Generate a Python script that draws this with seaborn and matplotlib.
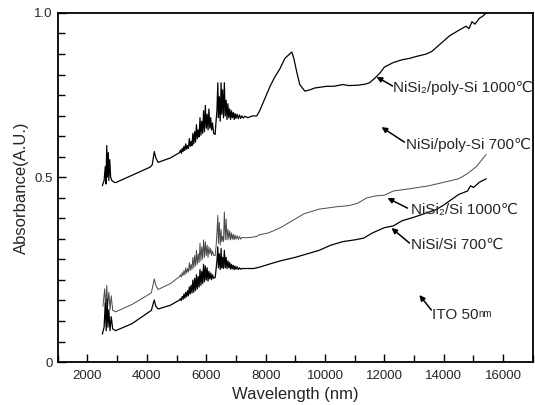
import matplotlib
matplotlib.use("Agg")
import matplotlib.pyplot as plt
import seaborn as sns

# ---------------- data ----------------
# NiSi2/poly-Si 1000C
wl_poly = [2500, 2560, 2600, 2620, 2650, 2670, 2700, 2720, 2750, 2780, 2820, 2900, 2950,
           3500, 4100, 4180, 4250, 4300, 4380, 4800,
           5100, 5130, 5160, 5190, 5220, 5250, 5280, 5310, 5340, 5370, 5400, 5430, 5460, 5490,
           5520, 5550, 5580, 5610, 5640, 5670, 5700, 5730, 5760, 5790, 5820, 5850, 5880, 5910,
           5940, 5970, 6000, 6030, 6060, 6090, 6120, 6150, 6180, 6210, 6250, 6300,
           6330, 6360, 6390, 6410, 6440, 6470, 6500, 6520, 6550, 6580, 6610, 6640, 6670, 6700,
           6730, 6760, 6790, 6820, 6850, 6880, 6910, 6940, 6970, 7000, 7040, 7080, 7120, 7160,
           7200, 7250, 7300, 7400, 7550, 7700,
           7800, 7950, 8150, 8300, 8480,
           8650, 8880, 8950, 9050, 9150, 9320, 9500, 9650, 10060, 10300, 10600, 10800, 11100,
           11350, 11500, 11700, 11850, 12000, 12300, 12600, 12850, 13100, 13400, 13600, 13800,
           14000, 14200, 14500, 14750, 14850, 14950, 15050, 15200, 15300, 15430]
ab_poly = [0.505, 0.52, 0.56, 0.51, 0.62, 0.53, 0.60, 0.52, 0.58, 0.53, 0.52, 0.515, 0.514,
           0.535, 0.558, 0.565, 0.603, 0.585, 0.572, 0.585,
           0.600, 0.607, 0.598, 0.612, 0.603, 0.618, 0.606, 0.625, 0.610, 0.620, 0.612, 0.640, 0.618, 0.632,
           0.620, 0.655, 0.625, 0.660, 0.630, 0.680, 0.640, 0.665, 0.645, 0.700, 0.650, 0.690, 0.655, 0.720,
           0.660, 0.735, 0.670, 0.710, 0.665, 0.725, 0.670, 0.700, 0.665, 0.685, 0.655, 0.652,
           0.690, 0.720, 0.800, 0.700, 0.760, 0.690, 0.800, 0.710, 0.780, 0.700, 0.800, 0.705, 0.750, 0.695,
           0.740, 0.700, 0.725, 0.695, 0.720, 0.700, 0.715, 0.695, 0.712, 0.698, 0.710, 0.697, 0.708, 0.698,
           0.705, 0.699, 0.704, 0.700, 0.705, 0.705,
           0.720, 0.750, 0.790, 0.815, 0.840,
           0.870, 0.888, 0.870, 0.830, 0.795, 0.776, 0.780, 0.785, 0.790, 0.790, 0.795, 0.792, 0.793,
           0.796, 0.800, 0.815, 0.828, 0.845, 0.858, 0.866, 0.870, 0.876, 0.882, 0.890, 0.905,
           0.920, 0.935, 0.950, 0.962, 0.955, 0.975, 0.968, 0.985, 0.990, 1.000]

# NiSi2/Si 1000C
wl_si2 = [2520, 2580, 2610, 2650, 2680, 2720, 2760, 2800, 2850, 2950,
          3500, 4150, 4250, 4300, 4380, 4800,
          5100, 5130, 5160, 5190, 5220, 5250, 5280, 5310, 5340, 5370, 5400, 5430, 5460, 5490,
          5520, 5550, 5580, 5610, 5640, 5670, 5700, 5730, 5760, 5790, 5820, 5850, 5880, 5910,
          5940, 5970, 6000, 6030, 6060, 6090, 6120, 6150, 6180, 6210, 6250, 6300,
          6330, 6360, 6390, 6410, 6440, 6470, 6500, 6520, 6550, 6580, 6610, 6640, 6670, 6700,
          6730, 6760, 6790, 6820, 6850, 6880, 6910, 6940, 6970, 7000, 7040, 7080, 7120, 7160,
          7200, 7300, 7500, 7700,
          7800, 8100, 8500, 8900, 9300, 9800, 10400,
          10800, 11100, 11400, 11700, 12000, 12300, 12900, 13500, 14000, 14500, 14800, 15100, 15430]
ab_si2 = [0.16, 0.21, 0.15, 0.22, 0.16, 0.20, 0.15, 0.19, 0.148, 0.144,
          0.165, 0.198, 0.238, 0.22, 0.208, 0.225,
          0.245, 0.250, 0.243, 0.256, 0.248, 0.262, 0.250, 0.270, 0.255, 0.268, 0.258, 0.285, 0.262, 0.280,
          0.265, 0.300, 0.270, 0.305, 0.275, 0.320, 0.280, 0.310, 0.285, 0.340, 0.290, 0.330, 0.295, 0.350,
          0.300, 0.345, 0.305, 0.335, 0.300, 0.330, 0.310, 0.325, 0.305, 0.318, 0.306, 0.305,
          0.330, 0.370, 0.420, 0.340, 0.400, 0.335, 0.380, 0.345, 0.360, 0.345, 0.430, 0.350, 0.410, 0.350,
          0.380, 0.352, 0.375, 0.350, 0.370, 0.352, 0.366, 0.350, 0.364, 0.352, 0.362, 0.351, 0.360, 0.352,
          0.357, 0.356, 0.357, 0.360,
          0.365, 0.370, 0.385, 0.405, 0.425, 0.438, 0.445,
          0.448, 0.455, 0.470, 0.476, 0.478, 0.490, 0.497, 0.505, 0.515, 0.525, 0.540, 0.560, 0.595]

# NiSi/Si 700C
wl_si = [2500, 2560, 2600, 2630, 2660, 2690, 2720, 2760, 2800, 2850, 2950,
         3500, 4150, 4250, 4300, 4380, 4800,
         5100, 5130, 5160, 5190, 5220, 5250, 5280, 5310, 5340, 5370, 5400, 5430, 5460, 5490,
         5520, 5550, 5580, 5610, 5640, 5670, 5700, 5730, 5760, 5790, 5820, 5850, 5880, 5910,
         5940, 5970, 6000, 6030, 6060, 6090, 6120, 6150, 6180, 6210, 6250, 6300,
         6330, 6360, 6390, 6410, 6440, 6470, 6500, 6520, 6550, 6580, 6610, 6640, 6670, 6700,
         6730, 6760, 6790, 6820, 6850, 6880, 6910, 6940, 6970, 7000, 7040, 7080, 7120, 7160,
         7200, 7400, 7600,
         7800, 8100, 8500, 9000, 9400, 9800, 10200, 10600,
         11000, 11300, 11600, 12000, 12300, 12600, 13000, 13750, 14000, 14500, 14800, 14900,
         15000, 15200, 15430]
ab_si = [0.08, 0.10, 0.17, 0.09, 0.18, 0.10, 0.15, 0.09, 0.13, 0.095, 0.09,
         0.11, 0.148, 0.178, 0.16, 0.152, 0.163,
         0.178, 0.182, 0.176, 0.188, 0.180, 0.195, 0.183, 0.200, 0.187, 0.205, 0.190, 0.215, 0.195, 0.220,
         0.198, 0.235, 0.200, 0.240, 0.205, 0.250, 0.210, 0.245, 0.215, 0.265, 0.220, 0.260, 0.225, 0.280,
         0.230, 0.275, 0.235, 0.270, 0.232, 0.260, 0.238, 0.255, 0.236, 0.250, 0.240, 0.242,
         0.265, 0.290, 0.330, 0.270, 0.310, 0.265, 0.325, 0.270, 0.300, 0.268, 0.320, 0.270, 0.300, 0.268,
         0.290, 0.270, 0.285, 0.266, 0.280, 0.267, 0.277, 0.265, 0.275, 0.266, 0.273, 0.265, 0.270, 0.266,
         0.268, 0.268, 0.268,
         0.272, 0.280, 0.290, 0.300, 0.310, 0.320, 0.335, 0.345,
         0.350, 0.355, 0.370, 0.385, 0.390, 0.405, 0.415, 0.437, 0.450, 0.480, 0.490, 0.505,
         0.500, 0.515, 0.525]

x_ticks = [2000, 4000, 6000, 8000, 10000, 12000, 14000, 16000]
y_tick_labels = ["0", "0.5", "1.0"]
y_tick_pos = [0.0, 9 / 17, 1.0]

# ---------------- style ----------------
sns.set_style("ticks")
plt.rcParams["font.family"] = ["Liberation Sans", "DejaVu Sans"]

fig = plt.figure(figsize=(5.35, 4.05), dpi=100)
ax = fig.add_axes([0.108, 0.106, 0.888, 0.862])

sns.lineplot(x=wl_poly, y=ab_poly, ax=ax, color="black", lw=0.9, sort=False, estimator=None)
sns.lineplot(x=wl_si2, y=ab_si2, ax=ax, color="#4a4a4a", lw=0.7, sort=False, estimator=None)
sns.lineplot(x=wl_si, y=ab_si, ax=ax, color="black", lw=0.9, sort=False, estimator=None)

ax.set_xlim(1000, 17000)
ax.set_ylim(0, 1.0)
ax.set_xticks(x_ticks)
ax.set_xticks(list(range(1000, 17001, 1000)), minor=True)
ax.set_yticks(y_tick_pos)
ax.set_yticklabels(y_tick_labels)
ax.set_yticks([k / 17 for k in range(18)], minor=True)
ax.tick_params(axis="both", which="both", direction="in", labelsize=9.5, color="black", width=1.0)
ax.tick_params(axis="both", which="major", length=6)
ax.tick_params(axis="both", which="minor", length=5)
ax.tick_params(axis="x", pad=6)
for s in ax.spines.values():
    s.set_visible(True)
    s.set_linewidth(1.3)
    s.set_color("black")

ax.set_xlabel("Wavelength (nm)", fontsize=12, labelpad=3)
ax.set_ylabel("Absorbance(A.U.)", fontsize=12, labelpad=4)

# annotations: (head, tail, text position, text)
arrow_kw = dict(arrowstyle="-|>", color="black", lw=1.1, mutation_scale=8, shrinkA=0, shrinkB=0)
notes = [
    ((11735, 0.817), (12272, 0.791), (12300, 0.785), "NiSi\u2082/poly-Si 1000\u2103"),
    ((11903, 0.673), (12675, 0.630), (12742, 0.622), "NiSi/poly-Si 700\u2103"),
    ((12104, 0.470), (12776, 0.441), (12910, 0.436), "NiSi\u2082/Si 1000\u2103"),
    ((12239, 0.384), (12843, 0.341), (12910, 0.335), "NiSi/Si 700\u2103"),
    ((13179, 0.192), (13582, 0.149), (13615, 0.135), "ITO 50"),
]
for head, tail, tpos, txt in notes:
    ax.annotate("", xy=head, xytext=tail, arrowprops=arrow_kw)
    ax.text(tpos[0], tpos[1], txt, fontsize=11, ha="left", va="center", clip_on=False)
ax.text(15150, 0.138, "nm", fontsize=7, ha="left", va="center")

fig.savefig("out.png", dpi=100)
